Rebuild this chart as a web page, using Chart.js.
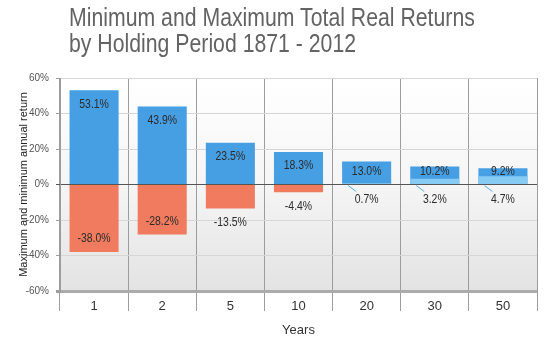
<!DOCTYPE html>
<html>
<head>
<meta charset="utf-8">
<script src="https://cdn.jsdelivr.net/npm/chart.js@4/dist/chart.umd.min.js"></script>
<style>
  html, body { margin: 0; padding: 0; background: #fff; }
  #wrap { position: relative; width: 547px; height: 341px; }
  #title {
    position: absolute; left: 69px; top: 4px; white-space: nowrap;
    font-family: "Liberation Sans", Arial, sans-serif;
    font-size: 25px; line-height: 26px; color: #636363;
    transform: scaleX(0.85); transform-origin: 0 0;
  }
  canvas { position: absolute; left: 0; top: 0; }
</style>
</head>
<body>
<div id="wrap">
  <canvas id="returnsChart" width="547" height="341"></canvas>
  <div id="title">Minimum and Maximum Total Real Returns<br>by Holding Period 1871 - 2012</div>
</div>
<script>
// Holding periods (years) and the best / worst annual real return for each
const periods = ["1", "2", "5", "10", "20", "30", "50"];
const maxReturns = [53.1, 43.9, 23.5, 18.3, 13.0, 10.2, 9.2];
const minReturns = [-38.0, -28.2, -13.5, -4.4, 0.7, 3.2, 4.7];
const yTicks = [-60, -40, -20, 0, 20, 40, 60];

const BLUE = "#479fe3";
const SALMON = "#f07b5e";
const LIGHT_BLUE = "#86cbf3";
const FONT = "'Liberation Sans', Arial, sans-serif";

// Plot background: soft gradient from white to light grey
const backgroundPlugin = {
  id: "plotBackground",
  beforeDraw(chart) {
    const { ctx, chartArea } = chart;
    const g = ctx.createLinearGradient(0, chartArea.top, 0, chartArea.bottom);
    g.addColorStop(0, "#ffffff");
    g.addColorStop(0.5, "#f5f5f5");
    g.addColorStop(1, "#e3e3e3");
    ctx.save();
    ctx.fillStyle = g;
    ctx.fillRect(chartArea.left, chartArea.top, chartArea.right - chartArea.left, chartArea.bottom - chartArea.top);
    ctx.restore();
  },
};

// narrow-looking text: squeeze horizontally around the anchor point
function narrowText(ctx, text, x, y) {
  ctx.save();
  ctx.translate(x, y);
  ctx.scale(0.87, 1);
  ctx.fillText(text, 0, 0);
  ctx.restore();
}

// Value labels on the bars
const labelPlugin = {
  id: "barLabels",
  afterDatasetsDraw(chart) {
    const { ctx } = chart;
    const zeroY = chart.scales.y.getPixelForValue(0);
    const minMeta = chart.getDatasetMeta(0);
    const maxMeta = chart.getDatasetMeta(1);
    ctx.save();
    ctx.font = "12px " + FONT;
    ctx.fillStyle = "#2b2b2b";
    ctx.textAlign = "center";
    ctx.textBaseline = "middle";
    maxMeta.data.forEach((bar, i) => {
      const y = Math.min(bar.y + 14, zeroY - 13);
      narrowText(ctx, maxReturns[i].toFixed(1) + "%", bar.x, y);
    });
    minMeta.data.forEach((bar, i) => {
      const v = minReturns[i];
      const text = v.toFixed(1) + "%";
      if (v < 0) {
        const h = bar.y - zeroY;
        const y = h > 25 ? bar.y - 13 : bar.y + 14;
        narrowText(ctx, text, bar.x, y);
      } else {
        const left = bar.x - bar.width / 2;
        ctx.strokeStyle = "#5aaee8";
        ctx.lineWidth = 1;
        ctx.beginPath();
        ctx.moveTo(left + 6, zeroY + 1);
        ctx.lineTo(left + 14, zeroY + 7);
        ctx.stroke();
        narrowText(ctx, text, bar.x, zeroY + 15);
      }
    });
    ctx.restore();
  },
};

document.addEventListener("DOMContentLoaded", () => {
  const canvas = document.getElementById("returnsChart");
  new Chart(canvas, {
    type: "bar",
    data: {
      labels: periods,
      datasets: [
        {
          label: "Minimum",
          data: minReturns,
          backgroundColor: minReturns.map((v) => (v < 0 ? SALMON : LIGHT_BLUE)),
          grouped: false,
          order: 0,
        },
        {
          label: "Maximum",
          data: maxReturns,
          backgroundColor: BLUE,
          grouped: false,
          order: 1,
        },
      ],
    },
    options: {
      responsive: false,
      animation: false,
      layout: { padding: { top: 78, right: 10, left: 0, bottom: 0 } },
      datasets: {
        bar: { categoryPercentage: 1, barPercentage: 0.72, borderWidth: 0 },
      },
      plugins: {
        legend: { display: false },
        tooltip: { enabled: false },
      },
      scales: {
        x: {
          offset: true,
          grid: {
            offset: true,
            color: "#9c9c9c",
            lineWidth: 1,
            tickLength: 20,
            tickColor: "#9c9c9c",
          },
          border: { display: false },
          ticks: {
            color: "#333",
            padding: -12,
            font: { family: FONT, size: 13 },
          },
          title: {
            display: true,
            text: "Years",
            color: "#333",
            padding: { top: 4, bottom: 3 },
            font: { family: FONT, size: 13 },
          },
          afterFit(scale) {
            scale.height = 50;
          },
        },
        y: {
          min: -60,
          max: 60,
          afterBuildTicks(scale) {
            scale.ticks = yTicks.map((v) => ({ value: v }));
          },
          grid: {
            color: (c) => (c.tick && c.tick.value === 0 ? "#555" : c.tick && c.tick.value === -60 ? "#ababab" : "#d6d6d6"),
            lineWidth: (c) => (c.tick && c.tick.value === -60 ? 3 : 1),
            tickColor: (c) => (c.tick && c.tick.value === 0 ? "#555" : "#9c9c9c"),
            tickLength: 4,
          },
          border: { display: true, color: "#9c9c9c" },
          ticks: {
            color: "#555",
            padding: 7,
            font: { family: FONT, size: 10 },
            callback: (v) => v + "%",
          },
          title: {
            display: true,
            text: "Maximum and minimum annual return",
            color: "#222",
            padding: { top: 17, bottom: 0 },
            font: { family: FONT, size: 11 },
          },
          afterFit(scale) {
            scale.width = 60;
          },
        },
      },
    },
    plugins: [backgroundPlugin, labelPlugin],
  });
});
</script>
</body>
</html>
